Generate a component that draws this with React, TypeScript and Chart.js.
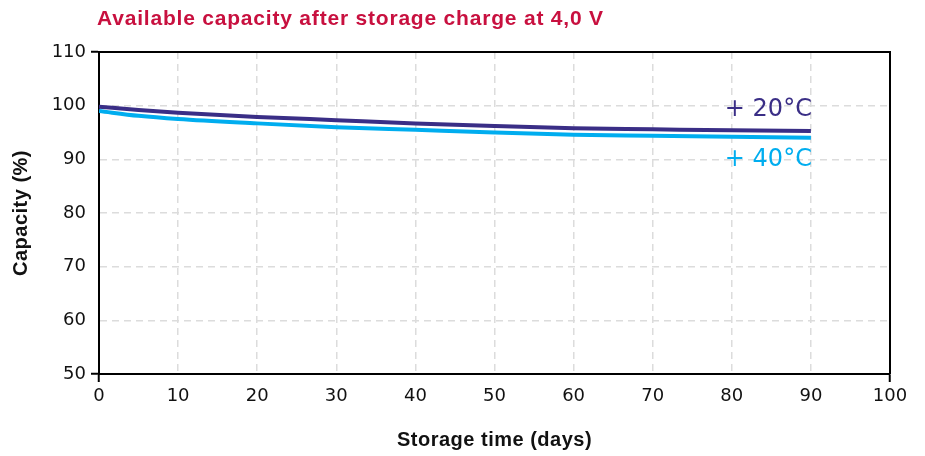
import React, { useEffect, useRef } from "react";
import { Chart, registerables } from "chart.js";

Chart.register(...registerables);

const days = [0, 5, 10, 20, 30, 40, 50, 60, 70, 80, 90];
const capacity20 = [99.8, 99.2, 98.7, 97.9, 97.3, 96.7, 96.2, 95.8, 95.6, 95.4, 95.3];
const capacity40 = [99.0, 98.1, 97.5, 96.7, 96.0, 95.5, 95.0, 94.6, 94.4, 94.2, 94.0];
const seriesLabels = ["+ 20°C", "+ 40°C"];
const labelValues = [99.2, 90.0];
const titleText = "Available capacity after storage charge at 4,0 V";
const xTitle = "Storage time (days)";
const yTitle = "Capacity (%)";

const DARK = "#3a2e86";
const LIGHT = "#00adef";
const CRIMSON = "#c8103f";

const overlay = {
  id: "overlay",
  afterDraw(chart: any) {
    const { ctx, chartArea, scales } = chart;
    ctx.save();
    // top and right border
    ctx.strokeStyle = "#000";
    ctx.lineWidth = 2;
    ctx.beginPath();
    ctx.moveTo(chartArea.left, chartArea.top);
    ctx.lineTo(chartArea.right, chartArea.top);
    ctx.lineTo(chartArea.right, chartArea.bottom);
    ctx.stroke();

    // title
    ctx.fillStyle = CRIMSON;
    ctx.font = "bold 21px 'Liberation Sans', Arial, sans-serif";
    (ctx as any).letterSpacing = "0.8px";
    ctx.textAlign = "left";
    ctx.textBaseline = "alphabetic";
    ctx.fillText(titleText, 97, 25);

    // axis titles
    ctx.fillStyle = "#111";
    ctx.font = "bold 20px 'Liberation Sans', Arial, sans-serif";
    (ctx as any).letterSpacing = "0.5px";
    ctx.textAlign = "center";
    ctx.textBaseline = "middle";
    ctx.fillText(xTitle, (scales.x.left + scales.x.right) / 2, 440);
    ctx.save();
    ctx.translate(21, 213);
    ctx.rotate(-Math.PI / 2);
    ctx.fillText(yTitle, 0, 0);
    ctx.restore();

    // series labels
    (ctx as any).letterSpacing = "0px";
    ctx.font = "24px 'DejaVu Sans', sans-serif";
    ctx.textAlign = "right";
    ctx.textBaseline = "middle";
    const xr = scales.x.getPixelForValue(90) + 1;
    ctx.fillStyle = DARK;
    ctx.fillText(seriesLabels[0], xr, scales.y.getPixelForValue(labelValues[0]));
    ctx.fillStyle = LIGHT;
    ctx.fillText(seriesLabels[1], xr, scales.y.getPixelForValue(labelValues[1]));
    ctx.restore();
  },
};

export default function App() {
  const ref = useRef<HTMLCanvasElement | null>(null);
  useEffect(() => {
    if (!ref.current) return;
    const chart = new Chart(ref.current, {
      type: "line",
      data: {
        datasets: [
          {
            label: seriesLabels[0],
            data: days.map((d, i) => ({ x: d, y: capacity20[i] })),
            borderColor: DARK,
            borderWidth: 4,
            pointRadius: 0,
            cubicInterpolationMode: "monotone",
            fill: false,
          },
          {
            label: seriesLabels[1],
            data: days.map((d, i) => ({ x: d, y: capacity40[i] })),
            borderColor: LIGHT,
            borderWidth: 4,
            pointRadius: 0,
            cubicInterpolationMode: "monotone",
            fill: false,
          },
        ],
      },
      options: {
        animation: false,
        responsive: true,
        maintainAspectRatio: false,
        layout: { padding: { left: 0, right: 35, top: 52, bottom: 0 } },
        plugins: {
          legend: { display: false },
          title: { display: false },
          tooltip: { enabled: false },
        },
        scales: {
          x: {
            type: "linear",
            min: 0,
            max: 100,
            afterFit: (s: any) => {
              s.height = 82;
            },
            ticks: {
              stepSize: 10,
              color: "#111",
              padding: 4,
              maxRotation: 0,
              font: { family: "'DejaVu Sans', sans-serif", size: 18 },
            },
            grid: {
              color: "#dcdcdc",
              lineWidth: 1.5,
              tickLength: 8,
              tickWidth: 2,
              tickColor: (c: any) =>
                c.tick && (c.tick.value === 0 || c.tick.value === 100) ? "#000" : "rgba(0,0,0,0)",
            },
            border: { display: true, color: "#000", width: 2, dash: [7, 5] },
          },
          y: {
            type: "linear",
            min: 50,
            max: 110,
            afterFit: (s: any) => {
              s.width = 99;
            },
            ticks: {
              stepSize: 10,
              color: "#111",
              padding: 5,
              font: { family: "'DejaVu Sans', sans-serif", size: 18 },
            },
            grid: {
              color: "#dcdcdc",
              lineWidth: 1.5,
              tickLength: 8,
              tickWidth: 2,
              tickColor: (c: any) =>
                c.tick && (c.tick.value === 50 || c.tick.value === 110) ? "#000" : "rgba(0,0,0,0)",
            },
            border: { display: true, color: "#000", width: 2, dash: [7, 5] },
          },
        },
      },
      plugins: [overlay],
    });
    return () => chart.destroy();
  }, []);

  return (
    <div style={{ position: "absolute", left: 0, top: 0, width: 925, height: 456, background: "#fff" }}>
      <canvas ref={ref} />
    </div>
  );
}
